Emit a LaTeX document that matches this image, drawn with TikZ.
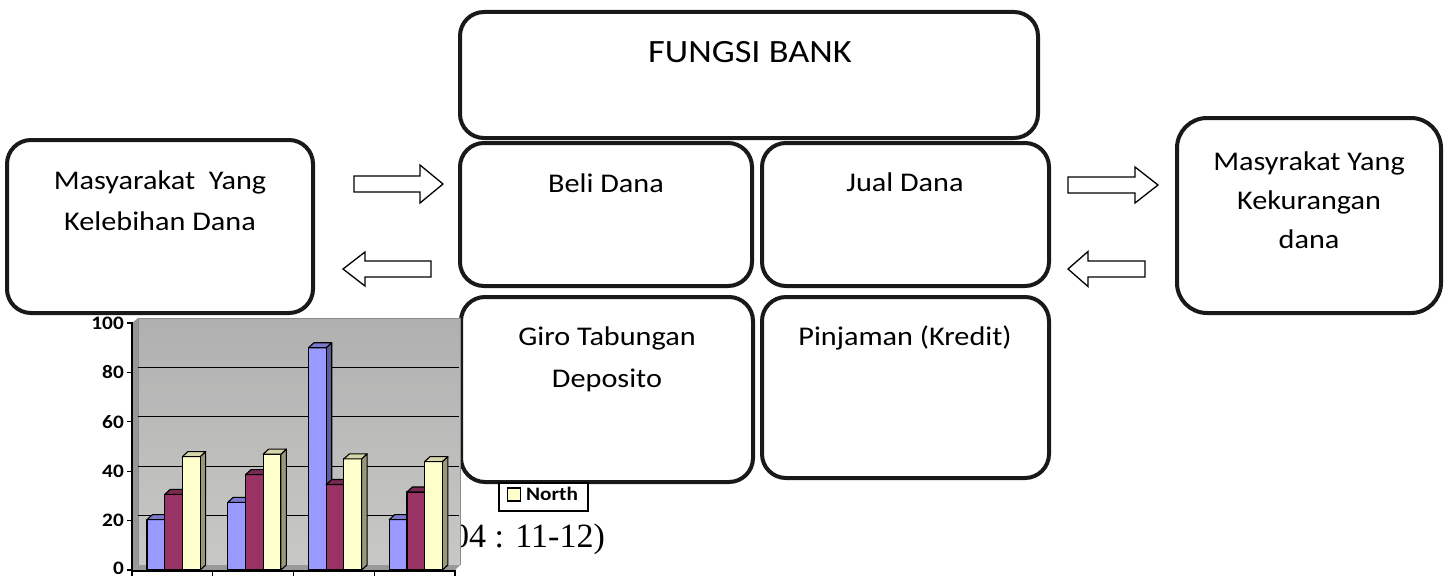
\documentclass[tikz,border=0pt]{standalone}
\usepackage{fontspec}
\setmainfont[FakeStretch=1.12]{Carlito}
\newfontfamily\tnr{Liberation Serif}
\definecolor{blueF}{RGB}{153,153,255}
\definecolor{blueS}{RGB}{92,92,153}
\definecolor{blueT}{RGB}{122,122,204}
\definecolor{marF}{RGB}{153,51,102}
\definecolor{marS}{RGB}{92,31,61}
\definecolor{marT}{RGB}{122,41,82}
\definecolor{yelF}{RGB}{255,255,204}
\definecolor{yelS}{RGB}{153,153,122}
\definecolor{yelT}{RGB}{214,214,170}
\definecolor{wallTop}{RGB}{176,176,176}
\definecolor{wallBot}{RGB}{200,200,198}
\definecolor{sideWall}{RGB}{150,150,150}
\newcommand\chartbar[5]{%
  \pgfmathsetmacro\yt{570-2.47*#2}%
  \filldraw[fill=#4, barline] (#1+17.7,570) -- (#1+23.2,565) -- (#1+23.2,\yt-5) -- (#1+17.7,\yt) -- cycle;
  \filldraw[fill=#3, barline] (#1,570) rectangle (#1+17.7,\yt);
  \filldraw[fill=#5, barline] (#1,\yt) -- (#1+5.5,\yt-5) -- (#1+23.2,\yt-5) -- (#1+17.7,\yt) -- cycle;
}
\newcommand\blockarr[6]{% tail, headbase, tip, cy, half body, half head
  \filldraw[blockarrow] (#1,#4-#5) -- (#2,#4-#5) -- (#2,#4-#6) -- (#3,#4) -- (#2,#4+#6) -- (#2,#4+#5) -- (#1,#4+#5) -- cycle;
}
\begin{document}
\begin{tikzpicture}[x=1pt,y=-1pt,
  box/.style={draw=black!90, line width=4pt, rounded corners=24pt, inner sep=0pt, outer sep=0pt},
  txt/.style={font=\fontsize{27}{41}\selectfont, align=center, inner sep=0pt},
  blockarrow/.style={draw=black, fill=white, line width=1.3pt, line join=miter},
  barline/.style={draw=black, line width=1.1pt, line join=round},
  ylab/.style={font=\bfseries\fontsize{19}{22}\selectfont, inner sep=0pt, anchor=east}]
\useasboundingbox (0,0) rectangle (1446,578);
\fill[white] (0,0) rectangle (1446,578);

% boxes
\node[box, minimum width=578, minimum height=126] (fungsi) at (749,75) {};
\node[box, minimum width=292, minimum height=143] (beli) at (606,214.5) {};
\node[box, minimum width=287, minimum height=143] (jual) at (905.5,214.5) {};
\node[box, minimum width=292, minimum height=185] (giro) at (607,389.5) {};
\node[box, minimum width=287, minimum height=181] (pinjam) at (905.5,387.5) {};
\node[box, minimum width=306, minimum height=173] (lebih) at (160,226.5) {};
\node[box, minimum width=264, minimum height=195, rounded corners=30pt] (kurang) at (1309,215.5) {};

% texts (multi-line nodes: base = last line)
\node[txt, font=\fontsize{32.5}{38}\selectfont, anchor=base] (tfungsi) at (750,63) {FUNGSI BANK};
\node[txt, anchor=base] (tbeli) at (606,192) {Beli Dana};
\node[txt, anchor=base] (tjual) at (905,191) {Jual Dana};
\node[txt, font=\fontsize{27}{42}\selectfont, anchor=base] (tgiro) at (607,387) {Giro Tabungan\\Deposito};
\node[txt, anchor=base] (tpinjam) at (905,345) {Pinjaman (Kredit)};
\node[txt, anchor=base] (tlebih) at (160,230) {Masyarakat\ \ Yang\\Kelebihan Dana};
\node[txt, font=\fontsize{27}{39}\selectfont, anchor=base] (tkurang) at (1309,248) {Masyrakat Yang\\Kekurangan\\dana};

% block arrows
\blockarr{354}{420}{443}{184}{8}{19}
\blockarr{431}{365}{343}{269}{8}{17}
\blockarr{1068}{1135}{1158}{185}{8}{18}
\blockarr{1145}{1088}{1068}{269}{8}{17.5}

% citation (partly hidden behind chart)
\node[font=\tnr\fontsize{34}{40}\selectfont, inner sep=0pt, anchor=base east] (cite) at (605,547) {2004 : 11-12)};

% legend
\node[draw=black, line width=1.3pt, fill=white, minimum width=89, minimum height=28, inner sep=0pt] (legend) at (543.5,497) {};
\node[draw=black, line width=1.1pt, fill=yelF, minimum size=13, inner sep=0pt] (legicon) at (514,494.5) {};
\node[font=\bfseries\fontsize{19}{24}\selectfont, inner sep=0pt, anchor=base west] (legtext) at (526,500) {North};

% chart walls
\shade[top color=wallTop, bottom color=wallBot] (138,318) rectangle (460,565);
\draw[black!45, line width=0.8pt] (138,565) -- (138,318) -- (460,318) -- (460,565);
\fill[sideWall] (132,323) -- (138,318) -- (138,565) -- (132,570) -- cycle;
\fill[black!40] (132,570) -- (138,565) -- (460,565) -- (455,570) -- cycle;
% gridlines
\foreach \v in {20,40,60,80}{
  \draw[black, line width=1.2pt] (138,{565-2.47*\v}) -- (459,{565-2.47*\v});
}
% bars
\foreach \gx/\a/\b/\c in {147/20.4/30.6/45.9, 227.75/27.4/38.6/46.9, 308.5/90/34.6/45, 389.25/20.4/31.6/43.9}{
  \chartbar{\gx}{\a}{blueF}{blueS}{blueT}
  \chartbar{\gx+17.7}{\b}{marF}{marS}{marT}
  \chartbar{\gx+35.4}{\c}{yelF}{yelS}{yelT}
}
% axes
\draw[black, line width=1.6pt] (132,322) -- (132,572);
\draw[black, line width=1.3pt] (132,571) -- (456,571);
\foreach \v in {0,20,40,60,80,100}{
  \draw[black, line width=1.3pt] (127,{570-2.47*\v}) -- (132,{570-2.47*\v});
}
\foreach \v/\yy in {0/568.5,20/520.6,40/471.2,60/421.8,80/372.4,100/323}{
  \node[ylab] (yl\v) at (124,\yy) {\v};
}
\foreach \x in {132,212.75,293.5,374.25,455}{
  \draw[black, line width=1.3pt] (\x,571) -- (\x,576);
}
\end{tikzpicture}
\end{document}
